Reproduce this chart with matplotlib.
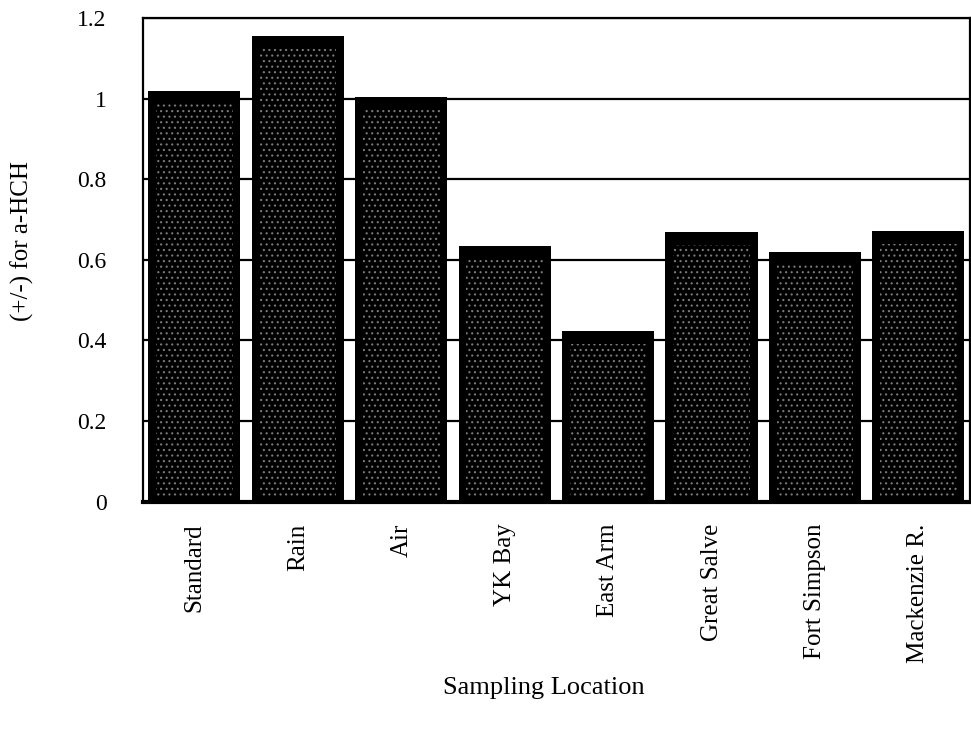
import matplotlib
matplotlib.use("Agg")
import matplotlib.pyplot as plt

# valores
locais = ["Standard", "Rain", "Air", "YK Bay", "East Arm", "Great Salve", "Fort Simpson", "Mackenzie R."]
valores = [1.02, 1.157, 1.005, 0.635, 0.424, 0.67, 0.62, 0.672]
yticks = [0, 0.2, 0.4, 0.6, 0.8, 1.0, 1.2]
ytick_labels = ["0", "0.2", "0.4", "0.6", "0.8", "1", "1.2"]

plt.rcParams['font.family'] = ['Liberation Serif', 'DejaVu Serif']
plt.rcParams['hatch.linewidth'] = 0.8

fig = plt.figure(figsize=(9.71, 7.30), dpi=100)
ax = fig.add_axes([0.147, 0.313, 0.852, 0.662])

x = list(range(len(locais)))
# barra preta
ax.bar(x, valores, width=0.89, color='black', linewidth=0, zorder=2)
# pontilhado claro dentro da barra, deixando uma borda preta
alturas_int = [v - 0.045 for v in valores]
ax.bar(x, alturas_int, bottom=0.012, width=0.74, fill=False, edgecolor='#7a7a7a',
       hatch='...', linewidth=0, zorder=3)

ax.set_xlim(-0.5, len(locais) - 0.5)
ax.set_ylim(0, 1.2)
ax.set_yticks(yticks)
ax.set_yticklabels(ytick_labels, fontsize=17)
ax.set_xticks(x)
ax.set_xticklabels(locais, rotation=90, fontsize=18, va='top')
ax.tick_params(axis='y', length=0, pad=26)
ax.tick_params(axis='x', length=0, pad=16)

ax.yaxis.grid(True, color='black', linewidth=1.6, zorder=0)
ax.set_axisbelow(True)
for lado in ['left', 'top', 'right']:
    ax.spines[lado].set_linewidth(1.6)
ax.spines['bottom'].set_linewidth(3)

fig.text(0.023, 0.67, "(+/-) for a-HCH", rotation=90, ha='center', va='center', fontsize=18)
fig.text(0.56, 0.057, "Sampling Location", ha='center', va='center', fontsize=19)

plt.savefig("out.png", dpi=100)
